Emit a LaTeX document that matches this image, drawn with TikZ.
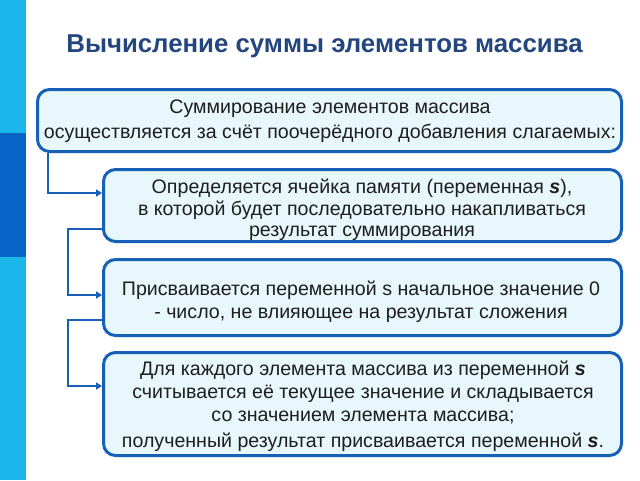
\documentclass[tikz,border=0pt]{standalone}
\usepackage{fontspec}
\setmainfont{Liberation Sans}
\usetikzlibrary{arrows.meta}
\definecolor{stripeLight}{HTML}{1BB6EA}
\definecolor{stripeDark}{HTML}{0765C8}
\definecolor{titleBlue}{HTML}{23467F}
\definecolor{edgeBlue}{HTML}{1660B6}
\definecolor{boxFill}{HTML}{E8F7FC}
\definecolor{textGray}{HTML}{1E1E1E}
\tikzset{
  box/.style={draw=edgeBlue, line width=3pt, fill=boxFill, rounded corners=12pt,
    inner sep=0pt},
  txt/.style={text=textGray, align=center, font=\fontsize{19.6}{23}\selectfont, inner sep=0pt},
  conn/.style={draw=edgeBlue, line width=2.5pt, -{Triangle[length=6pt,width=7pt]}},
}
\newcommand{\varS}{\textbf{\textit{s}}}
\begin{document}
\begin{tikzpicture}[x=1pt,y=-1pt]
\useasboundingbox (0,0) rectangle (640,480);
\fill[white] (0,0) rectangle (640,480);
% left stripe
\fill[stripeLight] (0,0) rectangle (26,480);
\fill[stripeDark] (0,133) rectangle (26,257);
% title
\node[font=\bfseries\fontsize{25.8}{30}\selectfont, text=titleBlue, inner sep=0pt] (title) at (324.5,46) {Вычисление суммы элементов массива};
% boxes
\node[box, minimum width=584pt, minimum height=62pt] (b1) at (329.5,120.5) {};
\node[box, minimum width=518pt, minimum height=72pt] (b2) at (362.5,205.5) {};
\node[box, minimum width=518pt, minimum height=76pt] (b3) at (362.5,297.5) {};
\node[box, minimum width=518pt, minimum height=103pt] (b4) at (362.5,404) {};
% texts
\node[txt, font=\fontsize{19.6}{24.5}\selectfont] (t1) at (330,121) {Суммирование элементов массива\\осуществляется за счёт поочерёдного добавления слагаемых:};
\node[txt, font=\fontsize{19.6}{21.5}\selectfont] (t2) at (362,210) {Определяется ячейка памяти (переменная \varS),\\в которой будет последовательно накапливаться\\результат суммирования};
\node[txt, font=\fontsize{19.6}{23}\selectfont] (t3) at (361,302) {Присваивается переменной s начальное значение 0\\- число, не влияющее на результат сложения};
\node[txt] (t4) at (363,406.5) {Для каждого элемента массива из переменной \varS\\считывается её текущее значение и складывается\\со значением элемента массива;\\[3pt]полученный результат присваивается переменной \varS.};
% connectors
\coordinate (k1) at (48,193);
\coordinate (k2) at (68,229);
\coordinate (k3) at (68,295);
\coordinate (k4) at (68,320);
\coordinate (k5) at (68,386);
\draw[conn] (b1.south west -| k1) -- (k1) -- (k1 -| b2.west);
\draw[conn] (k2 -| b2.west) -- (k2) -- (k3) -- (k3 -| b3.west);
\draw[conn] (k4 -| b3.west) -- (k4) -- (k5) -- (k5 -| b4.west);
\end{tikzpicture}
\end{document}
